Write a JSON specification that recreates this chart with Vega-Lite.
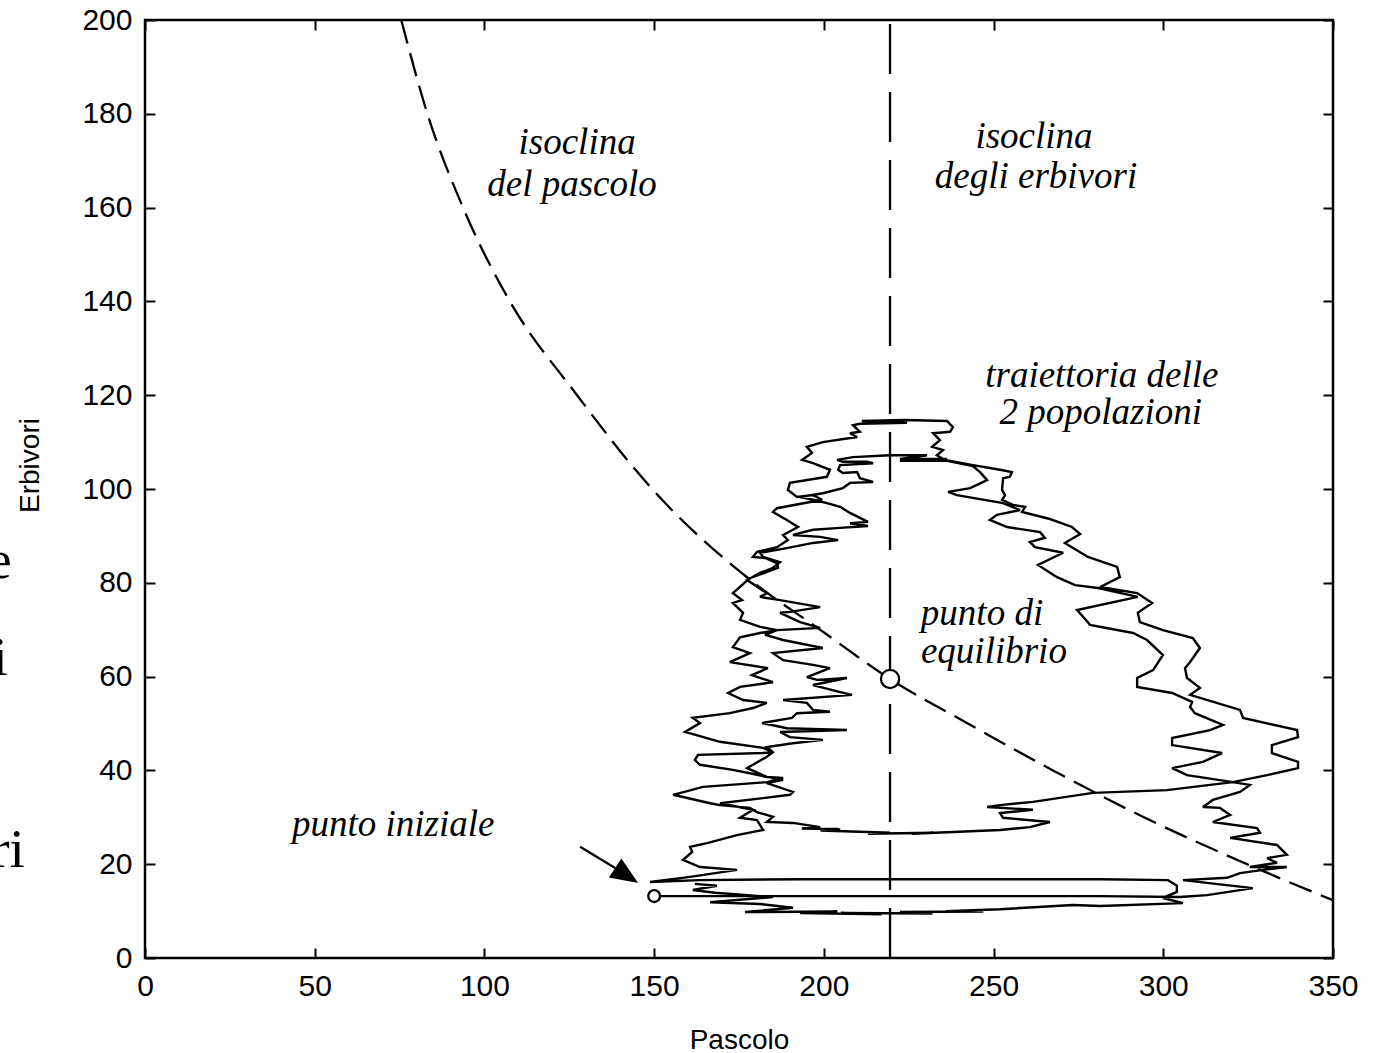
{
  "$schema": "https://vega.github.io/schema/vega-lite/v6.json",
  "width": 1188,
  "height": 938,
  "autosize": {"type": "none"},
  "padding": {"left": 145, "top": 20, "right": 42, "bottom": 95},
  "background": "white",
  "config": {"view": {"stroke": "black", "strokeWidth": 2.5}},
  "datasets": {
    "vert": [{"x": 219.5, "y": 0}, {"x": 219.5, "y": 200}],
    "iso": [
      {"x": 75.5, "y": 200}, {"x": 83.2, "y": 180}, {"x": 93.7, "y": 160}, {"x": 107.5, "y": 140},
      {"x": 127.3, "y": 120}, {"x": 149.4, "y": 100}, {"x": 179.4, "y": 80}, {"x": 198.9, "y": 70},
      {"x": 219.5, "y": 59.5}, {"x": 242.4, "y": 50}, {"x": 267.5, "y": 40}, {"x": 294.3, "y": 30},
      {"x": 324.7, "y": 20}, {"x": 350, "y": 12.3}
    ],
    "traj": [
      {"i":1,"x":150.0,"y":13.2},{"i":2,"x":163.5,"y":13.2},{"i":3,"x":193.0,"y":13.2},{"i":4,"x":222.4,"y":13.2},
      {"i":5,"x":251.9,"y":13.2},{"i":6,"x":281.4,"y":13.2},{"i":7,"x":304.9,"y":13.0},{"i":8,"x":312.9,"y":13.4},
      {"i":9,"x":326.4,"y":14.9},{"i":10,"x":305.8,"y":16.6},{"i":11,"x":318.8,"y":17.1},{"i":12,"x":322.6,"y":18.1},
      {"i":13,"x":329.4,"y":18.8},{"i":14,"x":336.4,"y":19.4},{"i":15,"x":325.5,"y":19.4},{"i":16,"x":333.5,"y":20.3},
      {"i":17,"x":330.6,"y":21.3},{"i":18,"x":336.4,"y":22.0},{"i":19,"x":333.5,"y":24.1},{"i":20,"x":319.7,"y":25.6},
      {"i":21,"x":328.5,"y":26.7},{"i":22,"x":327.6,"y":27.7},{"i":23,"x":314.6,"y":29.0},{"i":24,"x":319.7,"y":30.5},
      {"i":25,"x":316.7,"y":32.0},{"i":26,"x":311.7,"y":32.2},{"i":27,"x":314.6,"y":33.7},{"i":28,"x":322.6,"y":35.4},
      {"i":29,"x":325.5,"y":36.9},{"i":30,"x":320.5,"y":37.5},
      {"i":31,"x":330.6,"y":39.0},{"i":32,"x":339.7,"y":40.5},{"i":33,"x":339.7,"y":41.8},{"i":34,"x":332.0,"y":43.7},
      {"i":35,"x":332.0,"y":45.4},{"i":36,"x":339.7,"y":47.1},{"i":37,"x":339.4,"y":48.6},{"i":38,"x":323.5,"y":51.2},
      {"i":39,"x":322.6,"y":52.9},{"i":40,"x":307.9,"y":56.1},{"i":41,"x":310.8,"y":57.6},{"i":42,"x":307.0,"y":59.7},
      {"i":43,"x":306.4,"y":61.8},{"i":44,"x":307.9,"y":63.1},{"i":45,"x":310.8,"y":66.1},{"i":46,"x":308.7,"y":68.2},
      {"i":47,"x":299.9,"y":69.9},{"i":48,"x":293.1,"y":71.6},{"i":49,"x":292.5,"y":73.6},{"i":50,"x":296.7,"y":75.7},
      {"i":51,"x":292.3,"y":77.8},{"i":52,"x":281.4,"y":79.1},{"i":53,"x":287.2,"y":81.2},{"i":54,"x":286.4,"y":83.4},
      {"i":55,"x":277.8,"y":85.5},{"i":56,"x":271.0,"y":88.5},{"i":57,"x":275.5,"y":90.4},{"i":58,"x":273.1,"y":91.9},
      {"i":59,"x":266.6,"y":93.6},{"i":60,"x":258.4,"y":95.1},{"i":61,"x":259.3,"y":96.2},{"i":62,"x":255.7,"y":96.6},
      {"i":63,"x":252.5,"y":97.7},{"i":64,"x":253.4,"y":98.7},{"i":65,"x":252.5,"y":99.8},{"i":66,"x":252.8,"y":102.3},
      {"i":67,"x":254.8,"y":102.6},{"i":68,"x":255.4,"y":103.6},{"i":69,"x":251.9,"y":104.1},{"i":70,"x":243.9,"y":105.1},
      {"i":71,"x":235.7,"y":106.2},{"i":72,"x":233.3,"y":107.2},{"i":73,"x":235.1,"y":108.3},{"i":74,"x":231.9,"y":109.0},
      {"i":75,"x":234.2,"y":110.4},{"i":76,"x":232.2,"y":111.9},{"i":77,"x":237.2,"y":112.2},{"i":78,"x":238.0,"y":113.2},
      {"i":79,"x":236.3,"y":114.5},{"i":80,"x":223.9,"y":114.7},{"i":81,"x":211.2,"y":114.5},{"i":82,"x":224.5,"y":114.1},
      {"i":83,"x":210.6,"y":113.9},
      {"i":84,"x":208.6,"y":113.6},{"i":85,"x":210.6,"y":112.2},{"i":86,"x":207.7,"y":111.9},{"i":87,"x":209.8,"y":111.1},
      {"i":88,"x":199.7,"y":110.0},{"i":89,"x":195.0,"y":109.0},{"i":90,"x":196.5,"y":107.7},{"i":91,"x":193.6,"y":106.2},
      {"i":92,"x":196.8,"y":105.5},{"i":93,"x":201.8,"y":104.1},{"i":94,"x":200.9,"y":102.6},{"i":95,"x":190.0,"y":101.3},
      {"i":96,"x":189.4,"y":99.8},{"i":97,"x":192.1,"y":98.3},{"i":98,"x":196.8,"y":98.7},{"i":99,"x":199.5,"y":97.7},
      {"i":100,"x":186.2,"y":95.9},{"i":101,"x":185.0,"y":95.1},{"i":102,"x":189.1,"y":93.4},{"i":103,"x":192.4,"y":91.9},
      {"i":104,"x":188.0,"y":90.2},{"i":105,"x":189.4,"y":89.1},{"i":106,"x":186.2,"y":87.6},{"i":107,"x":180.3,"y":86.6},
      {"i":108,"x":179.1,"y":85.5},{"i":109,"x":182.7,"y":85.3},{"i":110,"x":186.2,"y":84.2},{"i":111,"x":186.5,"y":83.2},
      {"i":112,"x":178.2,"y":81.0},{"i":113,"x":173.2,"y":77.8},{"i":114,"x":175.9,"y":76.3},{"i":115,"x":173.2,"y":75.7},
      {"i":116,"x":176.2,"y":73.6},{"i":117,"x":175.3,"y":72.1},{"i":118,"x":181.2,"y":70.6},{"i":119,"x":186.2,"y":69.9},
      {"i":120,"x":181.2,"y":69.3},{"i":121,"x":175.3,"y":68.4},{"i":122,"x":173.2,"y":66.3},{"i":123,"x":178.2,"y":65.0},
      {"i":124,"x":172.3,"y":63.1},{"i":125,"x":183.5,"y":61.8},{"i":126,"x":178.8,"y":60.3},{"i":127,"x":185.0,"y":58.8},
      {"i":128,"x":175.3,"y":57.8},{"i":129,"x":171.8,"y":56.5},{"i":130,"x":176.2,"y":55.0},{"i":131,"x":183.2,"y":54.4},
      {"i":132,"x":179.1,"y":53.3},{"i":133,"x":172.3,"y":52.2},{"i":134,"x":161.4,"y":51.2},{"i":135,"x":163.5,"y":50.1},
      {"i":136,"x":159.1,"y":48.2},{"i":137,"x":169.4,"y":46.1},{"i":138,"x":182.1,"y":44.8},{"i":139,"x":185.0,"y":43.9},
      {"i":140,"x":182.1,"y":43.7},{"i":141,"x":162.9,"y":43.3},{"i":142,"x":162.0,"y":42.2},{"i":143,"x":163.5,"y":41.2},
      {"i":144,"x":173.2,"y":40.1},{"i":145,"x":178.2,"y":39.4},{"i":146,"x":183.2,"y":38.6},{"i":147,"x":188.0,"y":38.4},
      {"i":148,"x":183.2,"y":37.5},{"i":149,"x":164.4,"y":36.5},{"i":150,"x":155.6,"y":34.8},{"i":151,"x":166.5,"y":33.0},
      {"i":152,"x":169.4,"y":32.6},{"i":153,"x":178.2,"y":32.0},{"i":154,"x":180.3,"y":31.1},{"i":155,"x":185.0,"y":30.1},
      {"i":156,"x":183.2,"y":29.0},{"i":157,"x":190.9,"y":28.8},{"i":158,"x":198.9,"y":27.9},{"i":158.3,"x":193.5,"y":27.6},
      {"i":158.6,"x":204.0,"y":27.5},{"i":159,"x":204.8,"y":27.3},{"i":159.5,"x":199.0,"y":27.2},
      {"i":160,"x":219.5,"y":26.7},{"i":160.5,"x":213.0,"y":26.5},{"i":161,"x":232.2,"y":26.7},{"i":161.5,"x":226.0,"y":26.5},
      {"i":162,"x":251.9,"y":27.3},{"i":163,"x":260.7,"y":27.9},
      {"i":164,"x":266.6,"y":29.0},{"i":165,"x":252.8,"y":29.9},{"i":166,"x":251.9,"y":30.9},{"i":167,"x":261.6,"y":31.6},
      {"i":168,"x":248.1,"y":32.2},{"i":169,"x":251.9,"y":32.6},{"i":170,"x":261.6,"y":33.3},{"i":171,"x":279.3,"y":35.2},
      {"i":172,"x":301.1,"y":35.8},{"i":173,"x":320.5,"y":37.5},
      {"i":174,"x":307.0,"y":39.0},{"i":175,"x":302.6,"y":40.5},{"i":176,"x":311.7,"y":41.8},{"i":177,"x":317.3,"y":43.7},
      {"i":178,"x":302.6,"y":45.4},{"i":179,"x":302.6,"y":46.9},{"i":180,"x":313.8,"y":48.6},{"i":181,"x":317.6,"y":49.7},
      {"i":182,"x":309.3,"y":52.2},{"i":183,"x":307.9,"y":53.5},{"i":184,"x":308.5,"y":54.6},{"i":185,"x":302.6,"y":56.5},
      {"i":186,"x":292.3,"y":57.8},{"i":187,"x":292.3,"y":59.7},{"i":188,"x":297.0,"y":61.4},{"i":189,"x":299.9,"y":64.6},
      {"i":190,"x":295.2,"y":67.8},{"i":191,"x":291.1,"y":69.3},{"i":192,"x":278.4,"y":71.0},{"i":193,"x":277.8,"y":71.6},
      {"i":194,"x":274.6,"y":74.2},{"i":195,"x":292.5,"y":77.0},{"i":196,"x":280.8,"y":78.9},{"i":197,"x":274.0,"y":79.5},
      {"i":198,"x":268.7,"y":81.2},{"i":199,"x":263.1,"y":83.8},{"i":200,"x":270.5,"y":86.4},{"i":201,"x":262.2,"y":87.6},
      {"i":202,"x":260.7,"y":88.7},{"i":203,"x":265.1,"y":89.6},{"i":204,"x":263.7,"y":90.8},{"i":205,"x":254.0,"y":91.9},
      {"i":206,"x":248.9,"y":93.4},{"i":207,"x":251.0,"y":94.5},{"i":208,"x":257.8,"y":95.5},{"i":209,"x":252.8,"y":97.0},
      {"i":210,"x":239.2,"y":98.7},{"i":211,"x":236.6,"y":99.4},{"i":212,"x":243.1,"y":100.2},{"i":213,"x":248.1,"y":101.9},
      {"i":214,"x":246.0,"y":103.6},{"i":215,"x":243.9,"y":104.9},{"i":216,"x":236.3,"y":106.0},{"i":217,"x":222.4,"y":106.0},
      {"i":218,"x":236.3,"y":106.4},{"i":219,"x":222.4,"y":106.4},{"i":220,"x":230.4,"y":107.2},{"i":221,"x":219.5,"y":107.2},
      {"i":222,"x":208.6,"y":106.8},{"i":223,"x":203.9,"y":106.2},
      {"i":224,"x":205.6,"y":105.8},{"i":225,"x":212.7,"y":105.8},{"i":226,"x":214.5,"y":105.5},{"i":227,"x":204.8,"y":105.1},
      {"i":228,"x":204.2,"y":104.1},{"i":229,"x":205.6,"y":103.4},{"i":230,"x":209.8,"y":103.6},{"i":231,"x":210.6,"y":102.3},
      {"i":232,"x":214.5,"y":101.5},{"i":233,"x":207.7,"y":101.3},{"i":234,"x":205.6,"y":100.2},{"i":235,"x":199.7,"y":99.1},
      {"i":236,"x":193.0,"y":98.3},{"i":237,"x":196.8,"y":97.7},{"i":238,"x":200.9,"y":97.0},{"i":239,"x":204.8,"y":96.2},
      {"i":240,"x":207.7,"y":94.9},{"i":241,"x":213.0,"y":93.0},{"i":242,"x":207.7,"y":92.7},{"i":243,"x":213.0,"y":92.1},
      {"i":244,"x":204.8,"y":91.7},{"i":245,"x":196.8,"y":91.3},{"i":246,"x":190.9,"y":90.2},{"i":247,"x":198.9,"y":89.8},
      {"i":248,"x":204.2,"y":89.1},{"i":249,"x":196.8,"y":88.5},{"i":250,"x":189.1,"y":87.4},{"i":251,"x":181.2,"y":86.4},
      {"i":252,"x":182.1,"y":85.5},{"i":253,"x":187.1,"y":84.4},{"i":254,"x":185.0,"y":83.2},{"i":255,"x":181.2,"y":82.1},
      {"i":256,"x":177.4,"y":80.6},{"i":257,"x":183.2,"y":77.8},{"i":258,"x":181.2,"y":77.0},{"i":259,"x":187.1,"y":76.3},
      {"i":260,"x":198.9,"y":74.8},{"i":261,"x":190.0,"y":73.8},{"i":262,"x":187.1,"y":73.6},{"i":263,"x":193.0,"y":71.6},
      {"i":264,"x":198.9,"y":70.4},{"i":265,"x":186.2,"y":69.9},{"i":266,"x":182.7,"y":68.9},{"i":267,"x":188.0,"y":67.8},
      {"i":268,"x":199.7,"y":66.1},{"i":269,"x":185.0,"y":65.0},{"i":270,"x":188.0,"y":63.5},{"i":271,"x":196.8,"y":62.5},
      {"i":272,"x":201.8,"y":61.8},{"i":273,"x":195.0,"y":59.9},{"i":274,"x":198.0,"y":59.3},{"i":275,"x":206.8,"y":59.7},
      {"i":276,"x":196.8,"y":58.2},{"i":277,"x":204.8,"y":56.7},{"i":278,"x":208.3,"y":56.1},{"i":279,"x":188.0,"y":55.0},
      {"i":280,"x":195.0,"y":54.4},{"i":281,"x":196.8,"y":52.9},{"i":282,"x":201.8,"y":52.5},{"i":283,"x":192.1,"y":52.2},
      {"i":284,"x":190.6,"y":51.2},{"i":285,"x":181.8,"y":50.1},{"i":286,"x":189.1,"y":49.0},{"i":287,"x":206.8,"y":48.6},
      {"i":288,"x":187.1,"y":48.2},{"i":289,"x":190.0,"y":47.1},{"i":290,"x":199.7,"y":46.5},{"i":291,"x":190.9,"y":45.8},
      {"i":292,"x":183.2,"y":45.0},{"i":293,"x":185.0,"y":43.9},{"i":294,"x":183.2,"y":42.9},{"i":295,"x":177.4,"y":40.5},
      {"i":296,"x":183.2,"y":38.6},{"i":297,"x":188.0,"y":38.0},{"i":298,"x":183.2,"y":37.3},{"i":299,"x":190.9,"y":35.4},
      {"i":300,"x":190.0,"y":34.8},{"i":301,"x":182.1,"y":34.1},{"i":302,"x":169.4,"y":33.0},{"i":303,"x":179.1,"y":31.6},
      {"i":304,"x":175.3,"y":29.9},{"i":305,"x":180.3,"y":29.4},{"i":306,"x":182.1,"y":27.3},{"i":307,"x":174.4,"y":26.2},
      {"i":308,"x":165.6,"y":24.5},{"i":309,"x":160.6,"y":23.7},{"i":310,"x":161.2,"y":22.6},{"i":311,"x":158.5,"y":20.9},
      {"i":312,"x":163.5,"y":19.4},{"i":313,"x":174.4,"y":18.8},{"i":314,"x":160.6,"y":17.3},{"i":315,"x":148.8,"y":16.2},
      {"i":316,"x":163.5,"y":16.6},{"i":317,"x":193.0,"y":16.8},{"i":318,"x":222.4,"y":16.8},{"i":319,"x":251.9,"y":16.8},
      {"i":320,"x":281.4,"y":16.8},{"i":321,"x":301.4,"y":16.6},{"i":322,"x":304.0,"y":15.4},{"i":323,"x":304.0,"y":14.1},
      {"i":324,"x":299.9,"y":12.8},{"i":325,"x":305.8,"y":11.7},
      {"i":326,"x":281.4,"y":11.1},{"i":327,"x":273.4,"y":11.3},{"i":328,"x":251.9,"y":10.4},{"i":328.2,"x":236.0,"y":10.0},
      {"i":328.4,"x":247.0,"y":9.9},{"i":329,"x":222.4,"y":9.8},{"i":329.2,"x":232.0,"y":9.5},{"i":329.4,"x":205.0,"y":9.6},
      {"i":329.6,"x":217.0,"y":9.3},{"i":330,"x":193.0,"y":9.6},{"i":330.5,"x":204.0,"y":9.9},{"i":331,"x":176.8,"y":9.8},
      {"i":332,"x":190.9,"y":10.7},{"i":333,"x":181.2,"y":11.5},
      {"i":334,"x":166.5,"y":11.9},{"i":335,"x":185.0,"y":13.0},{"i":336,"x":167.9,"y":13.9},{"i":337,"x":161.4,"y":14.5},
      {"i":338,"x":168.5,"y":15.4},{"i":339,"x":162.0,"y":15.8}
    ],
    "arrow": [{"x": 128.2, "y": 23.7}, {"x": 138.5, "y": 19.2}],
    "head": [{"x": 141.9, "y": 17.6}],
    "eq": [{"x": 219.5, "y": 59.5}],
    "start": [{"x": 150, "y": 13.2}],
    "labels": [
      {"t": "isoclina", "x": 127.3, "y": 173.8},
      {"t": "del pascolo", "x": 125.8, "y": 164.8},
      {"t": "isoclina", "x": 261.9, "y": 175.1},
      {"t": "degli erbivori", "x": 262.5, "y": 166.6},
      {"t": "traiettoria delle", "x": 281.9, "y": 124.1},
      {"t": "2 popolazioni", "x": 281.6, "y": 116.2},
      {"t": "punto di", "x": 246.6, "y": 73.3},
      {"t": "equilibrio", "x": 250.1, "y": 65.2},
      {"t": "punto iniziale", "x": 73.1, "y": 28.4}
    ],
    "frag": [
      {"t": "e", "x": -39.3, "y": 81.0},
      {"t": "i", "x": -40.4, "y": 60.3},
      {"t": ".", "x": -41.8, "y": 50.7},
      {"t": "ri", "x": -35.4, "y": 19.4}
    ]
  },
  "resolve": {"axis": {"x": "independent", "y": "independent"}},
  "layer": [
    {
      "data": {"name": "vert"},
      "mark": {"type": "line", "color": "black", "strokeWidth": 2.3, "strokeDash": [50, 18], "strokeCap": "butt"},
      "encoding": {
        "x": {"field": "x", "type": "quantitative", "scale": {"domain": [0, 350], "nice": false, "zero": false},
          "axis": {"orient": "bottom", "values": [0, 50, 100, 150, 200, 250, 300, 350], "title": "Pascolo",
            "tickSize": -10, "tickWidth": 2, "tickColor": "black", "domain": false, "grid": false,
            "labelFont": "Liberation Sans", "labelFontSize": 30, "labelColor": "black", "labelPadding": 23,
            "labelFlush": false, "labelOverlap": false,
            "titleFont": "Liberation Sans", "titleFontSize": 28, "titleFontWeight": "normal", "titleColor": "black",
            "titleY": 90, "titleBaseline": "alphabetic"}},
        "y": {"field": "y", "type": "quantitative", "scale": {"domain": [0, 200], "nice": false, "zero": false},
          "axis": {"orient": "left", "values": [0, 20, 40, 60, 80, 100, 120, 140, 160, 180, 200], "title": "Erbivori",
            "tickSize": -10, "tickWidth": 2, "tickColor": "black", "domain": false, "grid": false,
            "labelFont": "Liberation Sans", "labelFontSize": 30, "labelColor": "black", "labelPadding": 23,
            "labelFlush": false, "labelOverlap": false, "labelBound": false,
            "titleFont": "Liberation Sans", "titleFontSize": 28, "titleFontWeight": "normal", "titleColor": "black",
            "titleX": -115, "titleY": 445, "titleAngle": -90, "titleAlign": "center", "titleBaseline": "middle"}}
      }
    },
    {
      "data": {"name": "iso"},
      "mark": {"type": "line", "color": "black", "strokeWidth": 2.3, "strokeDash": [24, 10], "strokeCap": "butt", "interpolate": "monotone"},
      "encoding": {
        "x": {"field": "x", "type": "quantitative", "scale": {"domain": [0, 350], "nice": false, "zero": false}, "axis": null},
        "y": {"field": "y", "type": "quantitative", "scale": {"domain": [0, 200], "nice": false, "zero": false}, "axis": null}
      }
    },
    {
      "data": {"name": "traj"},
      "mark": {"type": "line", "color": "black", "strokeWidth": 2.4, "strokeMiterLimit": 3},
      "encoding": {
        "x": {"field": "x", "type": "quantitative", "scale": {"domain": [0, 350], "nice": false, "zero": false}, "axis": null},
        "y": {"field": "y", "type": "quantitative", "scale": {"domain": [0, 200], "nice": false, "zero": false}, "axis": null},
        "order": {"field": "i", "type": "quantitative"}
      }
    },
    {
      "data": {"name": "arrow"},
      "mark": {"type": "line", "color": "black", "strokeWidth": 2.3},
      "encoding": {
        "x": {"field": "x", "type": "quantitative", "scale": {"domain": [0, 350], "nice": false, "zero": false}, "axis": null},
        "y": {"field": "y", "type": "quantitative", "scale": {"domain": [0, 200], "nice": false, "zero": false}, "axis": null}
      }
    },
    {
      "data": {"name": "head"},
      "mark": {"type": "point", "shape": "M0,-1L0.83,1L-0.83,1Z", "filled": true, "color": "black", "opacity": 1, "size": 756, "angle": 123},
      "encoding": {
        "x": {"field": "x", "type": "quantitative", "scale": {"domain": [0, 350], "nice": false, "zero": false}, "axis": null},
        "y": {"field": "y", "type": "quantitative", "scale": {"domain": [0, 200], "nice": false, "zero": false}, "axis": null}
      }
    },
    {
      "data": {"name": "eq"},
      "mark": {"type": "point", "shape": "circle", "filled": false, "fill": "white", "stroke": "black", "strokeWidth": 2.3, "opacity": 1, "size": 330},
      "encoding": {
        "x": {"field": "x", "type": "quantitative", "scale": {"domain": [0, 350], "nice": false, "zero": false}, "axis": null},
        "y": {"field": "y", "type": "quantitative", "scale": {"domain": [0, 200], "nice": false, "zero": false}, "axis": null}
      }
    },
    {
      "data": {"name": "start"},
      "mark": {"type": "point", "shape": "circle", "filled": false, "fill": "white", "stroke": "black", "strokeWidth": 2.3, "opacity": 1, "size": 140},
      "encoding": {
        "x": {"field": "x", "type": "quantitative", "scale": {"domain": [0, 350], "nice": false, "zero": false}, "axis": null},
        "y": {"field": "y", "type": "quantitative", "scale": {"domain": [0, 200], "nice": false, "zero": false}, "axis": null}
      }
    },
    {
      "data": {"name": "labels"},
      "mark": {"type": "text", "font": "Liberation Serif", "fontStyle": "italic", "fontSize": 37, "color": "black", "align": "center", "baseline": "middle"},
      "encoding": {
        "x": {"field": "x", "type": "quantitative", "scale": {"domain": [0, 350], "nice": false, "zero": false}, "axis": null},
        "y": {"field": "y", "type": "quantitative", "scale": {"domain": [0, 200], "nice": false, "zero": false}, "axis": null},
        "text": {"field": "t"}
      }
    },
    {
      "data": {"name": "frag"},
      "mark": {"type": "text", "font": "Liberation Serif", "fontSize": 55, "color": "black", "align": "right", "baseline": "alphabetic"},
      "encoding": {
        "x": {"field": "x", "type": "quantitative", "scale": {"domain": [0, 350], "nice": false, "zero": false}, "axis": null},
        "y": {"field": "y", "type": "quantitative", "scale": {"domain": [0, 200], "nice": false, "zero": false}, "axis": null},
        "text": {"field": "t"}
      }
    },
    {
      "data": {"name": "eq"},
      "mark": {"type": "point", "opacity": 0},
      "encoding": {
        "x": {"field": "x", "type": "quantitative", "scale": {"domain": [0, 350], "nice": false, "zero": false},
          "axis": {"orient": "top", "values": [0, 50, 100, 150, 200, 250, 300, 350], "title": null, "labels": false,
            "tickSize": -10, "tickWidth": 2, "tickColor": "black", "domain": false, "grid": false}},
        "y": {"field": "y", "type": "quantitative", "scale": {"domain": [0, 200], "nice": false, "zero": false},
          "axis": {"orient": "right", "values": [0, 20, 40, 60, 80, 100, 120, 140, 160, 180, 200], "title": null, "labels": false,
            "tickSize": -10, "tickWidth": 2, "tickColor": "black", "domain": false, "grid": false}}
      }
    }
  ]
}
